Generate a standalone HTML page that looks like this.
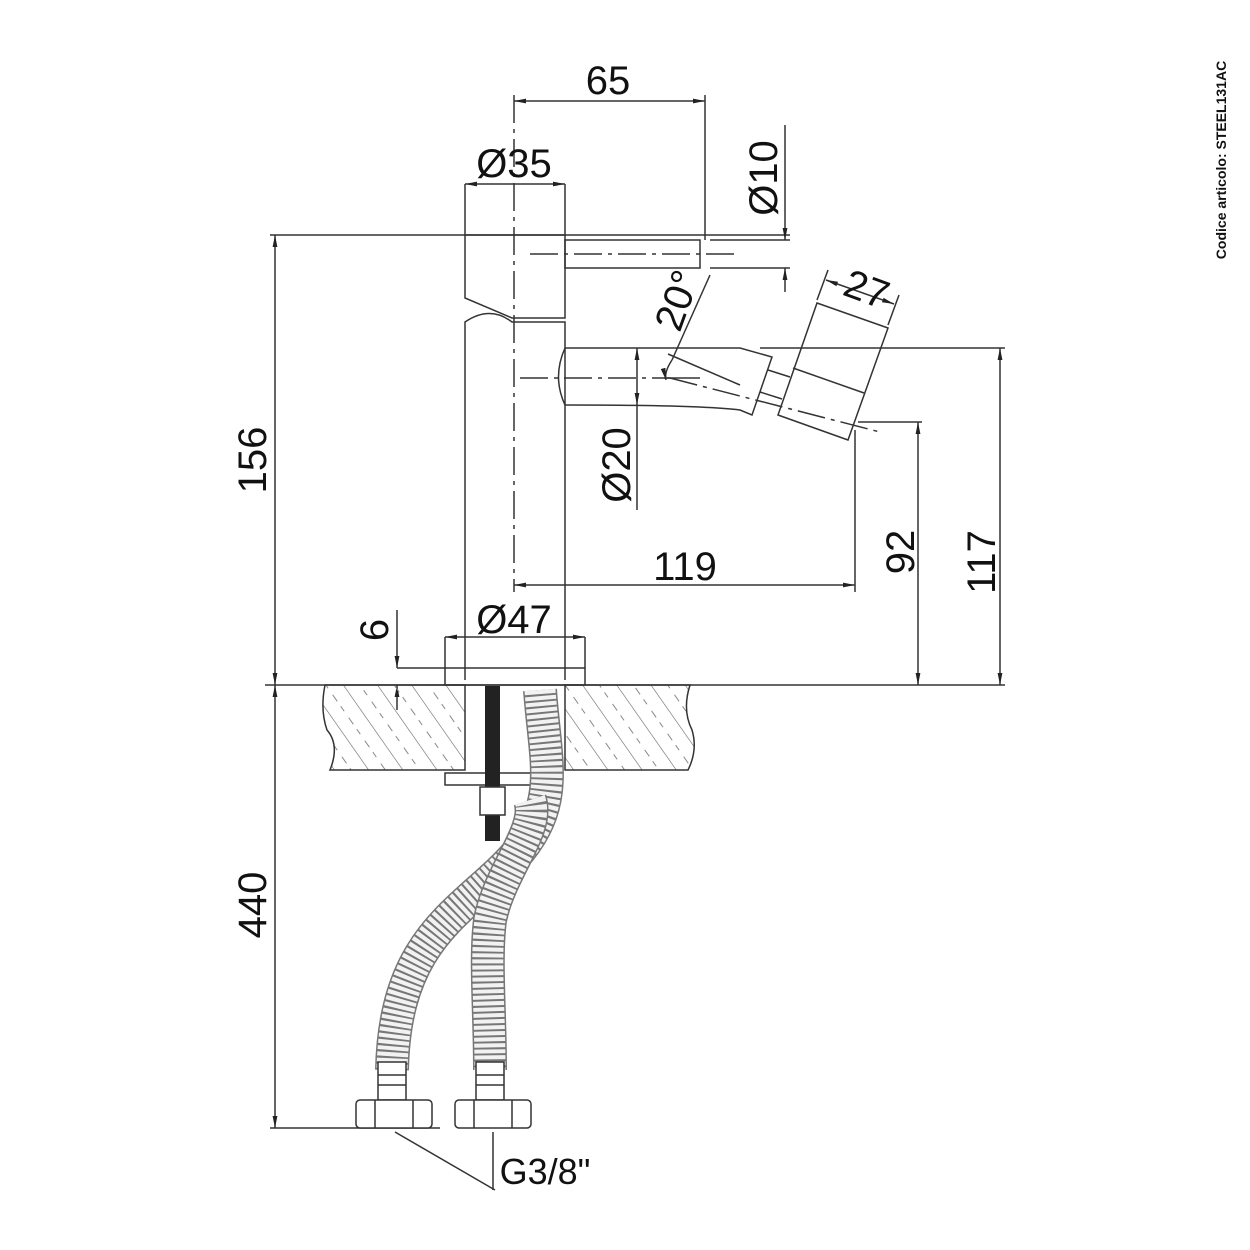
<!DOCTYPE html>
<html><head><style>html,body{margin:0;background:#fff}svg{display:block}</style></head><body>
<svg width="1250" height="1250" viewBox="0 0 1250 1250" xmlns="http://www.w3.org/2000/svg" font-family="Liberation Sans, sans-serif">
<defs>
<pattern id="h" width="28" height="28" patternUnits="userSpaceOnUse" patternTransform="rotate(-35)">
<line x1="0" y1="0" x2="0" y2="28" stroke="#666" stroke-width="1.2"/>
<line x1="14" y1="4" x2="14" y2="12" stroke="#888" stroke-width="1"/><line x1="14" y1="18" x2="14" y2="24" stroke="#888" stroke-width="1"/>
</pattern>
<marker id="a" viewBox="0 0 10 10" refX="10" refY="5" markerWidth="8" markerHeight="8" orient="auto-start-reverse"><path d="M0,3L10,5L0,7z" fill="#222"/></marker>
</defs>
<g stroke="#333" stroke-width="1.5" fill="none">
<line x1="514" y1="95" x2="514" y2="592" stroke-dasharray="28,6,4,6"/>
<line x1="530" y1="254" x2="735" y2="254" stroke-dasharray="28,6,4,6"/>
<line x1="520" y1="378" x2="670" y2="378" stroke-dasharray="28,6,4,6"/>
<line x1="670" y1="378" x2="880" y2="432" stroke-dasharray="28,6,4,6"/>
<line x1="514" y1="101" x2="705" y2="101" marker-start="url(#a)" marker-end="url(#a)"/>
<line x1="705" y1="95" x2="705" y2="240"/>
<line x1="465" y1="184" x2="565" y2="184" marker-start="url(#a)" marker-end="url(#a)"/>
<line x1="465" y1="184" x2="465" y2="235"/><line x1="565" y1="184" x2="565" y2="235"/>
<path d="M465,235 H565 V318 H512 L465,298 Z"/>
<path d="M465,680 V322 Q490,305 512,322 H565 V680"/>
<rect x="565" y="240" width="135" height="28"/>
<line x1="270" y1="235" x2="790" y2="235"/>
<line x1="710" y1="240" x2="790" y2="240"/><line x1="710" y1="268" x2="790" y2="268"/>
<line x1="785" y1="125" x2="785" y2="240" marker-end="url(#a)"/>
<line x1="785" y1="292" x2="785" y2="268" marker-end="url(#a)"/>
<line x1="710" y1="275" x2="672" y2="360"/>
<path d="M672,360 Q664,372 666,380" marker-end="url(#a)"/>
<line x1="664" y1="378" x2="700" y2="378"/>
<path d="M565,348 H740 L772,357 L752,415 L740,410 Q700,405 565,405"/>
<path d="M565,348 Q552,377 565,405"/>
<line x1="668" y1="354" x2="740" y2="385"/>
<line x1="768" y1="370" x2="790" y2="377"/><line x1="760" y1="392" x2="782" y2="399"/>
<path d="M817,303 L888,328 L848,440 L778,415 Z"/>
<line x1="793" y1="368" x2="864" y2="393"/>
<line x1="817" y1="300" x2="828" y2="270"/><line x1="888" y1="325" x2="899" y2="295"/>
<line x1="826" y1="280" x2="894" y2="304" marker-start="url(#a)" marker-end="url(#a)"/>
<line x1="760" y1="348" x2="1005" y2="348"/>
<line x1="1000" y1="348" x2="1000" y2="685" marker-start="url(#a)" marker-end="url(#a)"/>
<line x1="858" y1="422" x2="922" y2="422"/>
<line x1="918" y1="422" x2="918" y2="685" marker-start="url(#a)" marker-end="url(#a)"/>
<line x1="855" y1="430" x2="855" y2="592"/>
<line x1="514" y1="585" x2="855" y2="585" marker-start="url(#a)" marker-end="url(#a)"/>
<line x1="637" y1="348" x2="637" y2="405" marker-start="url(#a)" marker-end="url(#a)"/>
<line x1="637" y1="405" x2="637" y2="510"/>
<line x1="275" y1="235" x2="275" y2="685" marker-start="url(#a)" marker-end="url(#a)"/>
<line x1="275" y1="685" x2="275" y2="1128" marker-start="url(#a)" marker-end="url(#a)"/>
<line x1="270" y1="1128" x2="440" y2="1128"/>
<line x1="445" y1="637" x2="585" y2="637" marker-start="url(#a)" marker-end="url(#a)"/>
<line x1="445" y1="637" x2="445" y2="668"/><line x1="585" y1="637" x2="585" y2="668"/>
<rect x="445" y="668" width="140" height="17"/>
<line x1="397" y1="610" x2="397" y2="668" marker-end="url(#a)"/>
<line x1="397" y1="710" x2="397" y2="685" marker-end="url(#a)"/>
<line x1="397" y1="668" x2="445" y2="668"/>
<line x1="265" y1="685" x2="1005" y2="685"/>
</g>
<path d="M325,685 H465 V770 H330 Q340,745 327,730 Q320,710 325,685Z" fill="url(#h)" stroke="#333" stroke-width="1.5"/>
<path d="M565,685 H690 Q682,710 692,730 Q698,750 688,770 H565Z" fill="url(#h)" stroke="#333" stroke-width="1.5"/>
<rect x="445" y="773" width="115" height="12" fill="#fff" stroke="#333" stroke-width="1.5"/>
<rect x="485" y="686" width="15" height="155" fill="#222"/>
<rect x="480" y="787" width="25" height="28" fill="#fff" stroke="#333" stroke-width="1.5"/>
<g fill="none">
<path d="M540,690 C545,760 560,800 520,850 C470,910 395,930 392,1070" stroke="#777" stroke-width="34"/>
<path d="M540,690 C545,760 560,800 520,850 C470,910 395,930 392,1070" stroke="#f2f2f2" stroke-width="31" stroke-dasharray="4,2"/>
<path d="M530,800 C540,830 500,870 490,920 C485,960 490,1010 490,1070" stroke="#777" stroke-width="34"/>
<path d="M530,800 C540,830 500,870 490,920 C485,960 490,1010 490,1070" stroke="#f2f2f2" stroke-width="31" stroke-dasharray="4,2"/>
</g>
<g stroke="#333" stroke-width="1.5" fill="#fff">
<rect x="378" y="1062" width="28" height="38"/><rect x="476" y="1062" width="28" height="38"/>
<line x1="378" y1="1075" x2="406" y2="1075"/><line x1="378" y1="1085" x2="406" y2="1085"/>
<line x1="476" y1="1075" x2="504" y2="1075"/><line x1="476" y1="1085" x2="504" y2="1085"/>
<rect x="356" y="1100" width="76" height="28" rx="4"/><rect x="455" y="1100" width="76" height="28" rx="4"/>
<line x1="375" y1="1100" x2="375" y2="1128"/><line x1="413" y1="1100" x2="413" y2="1128"/>
<line x1="474" y1="1100" x2="474" y2="1128"/><line x1="512" y1="1100" x2="512" y2="1128"/>
<line x1="395" y1="1132" x2="495" y2="1190" fill="none"/><line x1="493" y1="1132" x2="493" y2="1190"/>
</g>
<g font-size="40" fill="#111" text-anchor="middle">
<text x="608" y="94">65</text>
<text x="514" y="177">Ø35</text>
<text x="514" y="633">Ø47</text>
<text x="685" y="580">119</text>
<text transform="translate(777,178) rotate(-90)">Ø10</text>
<text transform="translate(266,460) rotate(-90)">156</text>
<text transform="translate(266,905) rotate(-90)">440</text>
<text transform="translate(630,465) rotate(-90)">Ø20</text>
<text transform="translate(914,552) rotate(-90)">92</text>
<text transform="translate(995,562) rotate(-90)">117</text>
<text transform="translate(388,630) rotate(-90)">6</text>
<text transform="translate(690,305) rotate(-70)">20°</text>
<text transform="translate(862,302) rotate(20)">27</text>
<text x="545" y="1184" font-size="36">G3/8"</text>
<text transform="translate(1226,160) rotate(-90)" font-size="14" font-weight="bold">Codice articolo: STEEL131AC</text>
</g>
</svg>
</body></html>
